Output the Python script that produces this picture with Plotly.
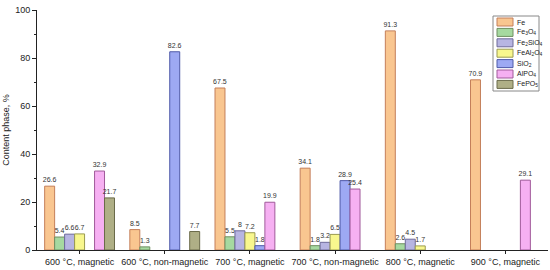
import plotly.graph_objects as go

samples = ["600 °C, magnetic", "600 °C, non-magnetic", "700 °C, magnetic",
           "700 °C, non-magnetic", "800 °C, magnetic", "900 °C, magnetic"]

fe = [26.6, 8.5, 67.5, 34.1, 91.3, 70.9]
fe3o4 = [5.4, 1.3, 5.5, 1.8, 2.6, None]
fe2sio4 = [6.6, None, 8, 3.2, 4.5, None]
feal2o4 = [6.7, None, 7.2, 6.5, 1.7, None]
sio2 = [None, 82.6, 1.8, 28.9, None, None]
alpo4 = [32.9, None, 19.9, 25.4, None, 29.1]
fepo5 = [21.7, 7.7, None, None, None, None]

phases = [
    ("Fe", fe, "#F9C690", "#C47F5A"),
    ("Fe<sub>3</sub>O<sub>4</sub>", fe3o4, "#A6D9A0", "#6E8E60"),
    ("Fe<sub>2</sub>SiO<sub>4</sub>", fe2sio4, "#B7B5E2", "#6E6A9A"),
    ("FeAl<sub>2</sub>O<sub>4</sub>", feal2o4, "#F8F78E", "#9A9A50"),
    ("SiO<sub>2</sub>", sio2, "#9DA9F3", "#4F5AA8"),
    ("AlPO<sub>4</sub>", alpo4, "#F6B0F2", "#A05A9A"),
    ("FePO<sub>5</sub>", fepo5, "#AFAF86", "#6A6A4A"),
]

W, H = 550, 270
L, R, T, B = 37, 2, 10, 20

def px(x, y):
    # pixel -> paper coords
    return (x - L) / (W - L - R), (H - B - y) / (H - T - B)

fig = go.Figure()
for name, vals, fill, edge in phases:
    fig.add_trace(go.Bar(
        x=samples, y=vals, name=name,
        marker=dict(color=fill, line=dict(color=edge, width=1)),
        texttemplate="%{y}", textposition="outside",
        textfont=dict(size=7, color="#333333"),
        constraintext="none", cliponaxis=False,
    ))

# hand-drawn compact legend box
x0, y0 = px(493, 16)
x1, y1 = px(539, 91)
fig.add_shape(type="rect", xref="paper", yref="paper", x0=x0, y0=y0, x1=x1, y1=y1,
              line=dict(color="#888888", width=1), fillcolor="white", layer="above")
for i, (name, vals, fill, edge) in enumerate(phases):
    cy = 22 + i * 10.4
    sx0, sy0 = px(497, cy - 4)
    sx1, sy1 = px(513, cy + 4)
    fig.add_shape(type="rect", xref="paper", yref="paper", x0=sx0, y0=sy0, x1=sx1, y1=sy1,
                  line=dict(color=edge, width=1), fillcolor=fill, layer="above")
    tx, ty = px(515, cy)
    fig.add_annotation(x=tx, y=ty, xref="paper", yref="paper", text=name,
                       showarrow=False, xanchor="left", yanchor="middle",
                       font=dict(size=7, color="#222222"))

fig.update_layout(
    width=W, height=H,
    margin=dict(l=L, r=R, t=T, b=B),
    barmode="group", bargap=0.18, bargroupgap=0,
    plot_bgcolor="white", paper_bgcolor="white",
    font=dict(family="Liberation Sans, Arial, sans-serif", size=9, color="#222222"),
    showlegend=False,
)
fig.update_xaxes(showline=True, linecolor="#222222", linewidth=1,
                 ticks="outside", ticklen=3, tickcolor="#222222",
                 range=[-0.5, 5.5], tickfont=dict(size=9))
fig.update_yaxes(showline=True, linecolor="#222222", linewidth=1,
                 range=[0, 100], dtick=20, ticks="outside", ticklen=4,
                 tickcolor="#222222", showgrid=False, zeroline=False,
                 minor=dict(dtick=10, ticks="outside", ticklen=2, tickcolor="#222222"),
                 title=dict(text="Content phase, %", font=dict(size=9), standoff=4))

# drop the browser's default 8px body margin so the figure sits at 0,0
fig.write_html("out.html", config={"displayModeBar": False},
               post_script="document.body.style.margin='0px';")
